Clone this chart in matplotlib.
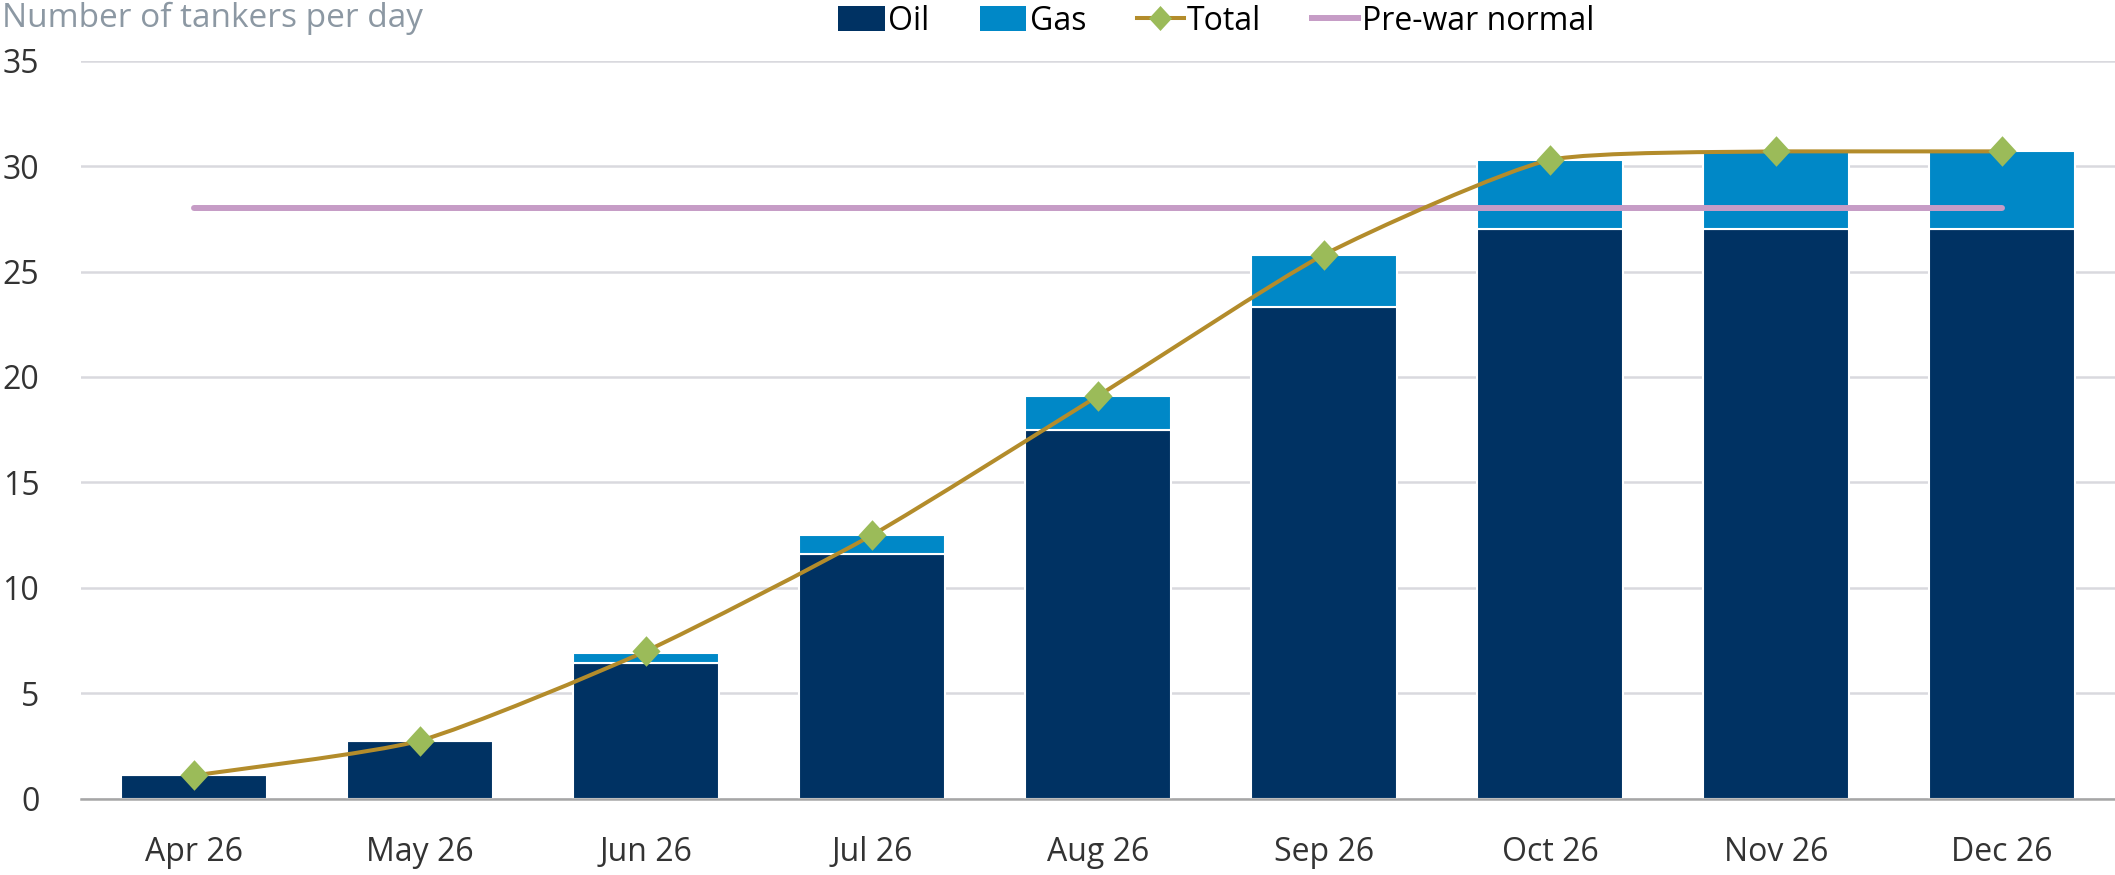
import numpy as np
import matplotlib
matplotlib.use("Agg")
import matplotlib.pyplot as plt
from matplotlib.path import Path
from matplotlib.patches import PathPatch, Patch
from matplotlib.lines import Line2D

plt.rcParams['font.family'] = ['Open Sans', 'DejaVu Sans']

# data
months = ['Apr 26', 'May 26', 'Jun 26', 'Jul 26', 'Aug 26', 'Sep 26', 'Oct 26', 'Nov 26', 'Dec 26']
oil = [1.1, 2.75, 6.45, 11.6, 17.5, 23.3, 27.0, 27.0, 27.0]
gas = [0.0, 0.0, 0.45, 0.9, 1.6, 2.5, 3.3, 3.7, 3.7]
total = [1.1, 2.75, 7.0, 12.5, 19.1, 25.8, 30.3, 30.7, 30.7]
pre_war = 28.0

c_oil = '#003263'
c_gas = '#0088C7'
c_total = '#B38C2B'
c_marker = '#9BBB59'
c_prewar = '#C69CC6'

fig = plt.figure(figsize=(21.15, 8.75), dpi=100)
ax = fig.add_axes([0.0383, 0.0873, 0.9617, 0.8433])

x = np.arange(len(months))
ax.bar(x, oil, width=0.65, color=c_oil, edgecolor='white', linewidth=1.5, zorder=2)
ax.bar(x, gas, width=0.65, bottom=oil, color=c_gas, edgecolor='white', linewidth=1.5, zorder=2)

# pre-war normal line across the months
ax.plot([x[0], x[-1]], [pre_war, pre_war], color=c_prewar, lw=4.3, solid_capstyle='round', zorder=3)

# lightly smoothed total line: bezier with small tension, control points kept inside each segment
tension = 1 / 10
pts = np.column_stack([x, total]).astype(float)
n = len(pts)
verts = [tuple(pts[0])]
codes = [Path.MOVETO]
for i in range(n - 1):
    p0 = pts[i - 1] if i > 0 else pts[i]
    p1 = pts[i]
    p2 = pts[i + 1]
    p3 = pts[i + 2] if i + 2 < n else pts[i + 1]
    c1 = p1 + (p2 - p0) * tension
    c2 = p2 - (p3 - p1) * tension
    lo, hi = min(p1[1], p2[1]), max(p1[1], p2[1])
    c1[1] = np.clip(c1[1], lo, hi)
    c2[1] = np.clip(c2[1], lo, hi)
    verts += [tuple(c1), tuple(c2), tuple(p2)]
    codes += [Path.CURVE4] * 3
ax.add_patch(PathPatch(Path(verts, codes), fill=False, edgecolor=c_total, lw=2.9,
                       capstyle='round', joinstyle='round', zorder=4))

diamond = Path([(0, 1), (0.92, 0), (0, -1), (-0.92, 0), (0, 1)],
               [Path.MOVETO, Path.LINETO, Path.LINETO, Path.LINETO, Path.CLOSEPOLY])
ax.plot(x, total, linestyle='none', marker=diamond, markersize=22, color=c_marker,
        markeredgewidth=0, zorder=5)

ax.set_xlim(-0.5, len(months) - 0.5)
ax.set_ylim(0, 35)
ax.set_yticks(range(0, 36, 5))
ax.set_xticks(x)
ax.set_xticklabels(months)
ax.grid(axis='y', color='#D9D9DE', lw=1.8, zorder=0)
ax.set_axisbelow(True)
for s in ['top', 'right', 'left']:
    ax.spines[s].set_visible(False)
ax.spines['bottom'].set_color('#A6A6A6')
ax.spines['bottom'].set_linewidth(1.8)
ax.spines['bottom'].set_zorder(6)
ax.tick_params(axis='both', length=0, labelsize=23, colors='#333333')
ax.tick_params(axis='x', pad=27)
ax.tick_params(axis='y', pad=30)

fig.text(0.001, 0.979, 'Number of tankers per day', fontsize=24, color='#8C98A3', va='center', ha='left')

handles = [
    Patch(facecolor=c_oil),
    Patch(facecolor=c_gas),
    Line2D([], [], color=c_total, lw=2.9, marker=diamond, markersize=18,
           markerfacecolor=c_marker, markeredgewidth=0),
    Line2D([], [], color=c_prewar, lw=4.3),
]
fig.legend(handles, ['Oil', 'Gas', 'Total', 'Pre-war normal'], loc='center',
           bbox_to_anchor=(0.575, 0.976), ncol=4, frameon=False, fontsize=23,
           handlelength=1.45, handleheight=0.8, handletextpad=0.1, columnspacing=1.6)

fig.savefig('out.png', dpi=100)
